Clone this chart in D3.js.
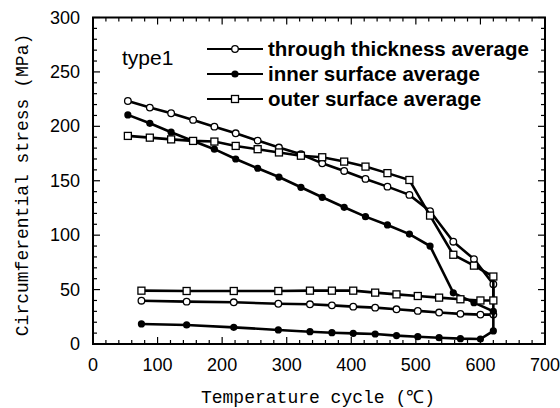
<!DOCTYPE html>
<html><head><meta charset="utf-8">
<script src="https://cdn.jsdelivr.net/npm/d3@7"></script>
<style>body{margin:0;background:#fff}</style>
</head><body>
<svg id="c" width="560" height="408"></svg>
<script>
// Data: a loop — lower branch (heating) from ~75 to 620, then upper branch back down to ~55
const temps   = [75,145,218,287,336,370,403,437,470,503,536,569,600,620, 620,590,558,522,490,456,422,389,355,322,288,255,221,188,155,121,88,54];
const through = [39.8,38.9,38.3,37,36.5,35.5,34.3,33.4,31.9,30.4,28.9,27.7,27,27, 55,78,94,122,137,144.6,151.7,159,166,174.3,180.5,186.9,193.6,199.7,205.9,212,217.2,223.3];
const inner   = [18.4,17.5,15.3,12.9,11.3,10.4,9.8,9.2,7.7,6.7,5.8,4.9,4.6,12, 30,38,47,90,101,109.4,117,125.6,134.8,144,153.4,161.5,170,179,186.6,194.6,202.8,210.5];
const outer   = [49,48.7,48.7,48.7,49,49,49,47.2,45.6,44.1,42.6,41.1,40,40, 62,72,82,118,150.7,157,163,167.6,171.6,173,176,179,182,186,186.6,188,189.6,191.2];
const seriesNames = ["through thickness average","inner surface average","outer surface average"];
const xTicks = [0,100,200,300,400,500,600,700];
const yTicks = [0,50,100,150,200,250,300];

const svg = d3.select("#c");
const x = d3.scaleLinear().domain([0,700]).range([93,545]);
const y = d3.scaleLinear().domain([0,300]).range([344,17.5]);

const g = svg.append("g");
// ticks, inward, on all four sides
const xMinor = d3.range(0,701,20), yMinor = d3.range(0,301,10);
const tk = g.append("g").attr("stroke","#000").attr("stroke-width",1.2);
xMinor.forEach(v=>{
  const L = v%100===0?7:4;
  tk.append("line").attr("x1",x(v)).attr("x2",x(v)).attr("y1",y(0)).attr("y2",y(0)-L);
  tk.append("line").attr("x1",x(v)).attr("x2",x(v)).attr("y1",y(300)).attr("y2",y(300)+L);
});
yMinor.forEach(v=>{
  const L = v%50===0?7:4;
  tk.append("line").attr("y1",y(v)).attr("y2",y(v)).attr("x1",x(0)).attr("x2",x(0)+L);
  tk.append("line").attr("y1",y(v)).attr("y2",y(v)).attr("x1",x(700)).attr("x2",x(700)-L);
});
g.append("rect").attr("x",x(0)).attr("y",y(300)).attr("width",x(700)-x(0)).attr("height",y(0)-y(300))
  .attr("fill","none").attr("stroke","#000").attr("stroke-width",2);

// tick labels
g.selectAll(".xl").data(xTicks).enter().append("text")
  .attr("x",d=>x(d)).attr("y",371).attr("text-anchor","middle")
  .attr("font-family","Liberation Sans, Arial, sans-serif").attr("font-size",18).text(d=>d);
g.selectAll(".yl").data(yTicks).enter().append("text")
  .attr("x",80).attr("y",d=>y(d)+6).attr("text-anchor","end")
  .attr("font-family","Liberation Sans, Arial, sans-serif").attr("font-size",18).text(d=>d);

// axis titles
g.append("text").attr("x",318).attr("y",403).attr("text-anchor","middle")
  .attr("font-family","Liberation Mono, DejaVu Sans Mono, monospace").attr("font-size",18)
  .text("Temperature cycle (℃)");
g.append("text").attr("transform","translate(28,185) rotate(-90)").attr("text-anchor","middle")
  .attr("font-family","Liberation Mono, DejaVu Sans Mono, monospace").attr("font-size",18)
  .text("Circumferential stress (MPa)");

// series
const line = d3.line().x(d=>x(d[0])).y(d=>y(d[1]));
const sets = [through, inner, outer];
const kinds = ["circle","dot","square"];
function marker(sel, kind, cx, cy){
  if(kind==="square") sel.append("rect").attr("x",cx-3.5).attr("y",cy-3.5).attr("width",7).attr("height",7)
      .attr("fill","#fff").attr("stroke","#000").attr("stroke-width",1.3);
  else if(kind==="circle") sel.append("circle").attr("cx",cx).attr("cy",cy).attr("r",3.3)
      .attr("fill","#fff").attr("stroke","#000").attr("stroke-width",1.3);
  else sel.append("circle").attr("cx",cx).attr("cy",cy).attr("r",3.6).attr("fill","#000");
}
sets.forEach((vals,i)=>{
  const pts = temps.map((t,j)=>[t,vals[j]]);
  g.append("path").attr("d",line(pts)).attr("fill","none").attr("stroke","#000").attr("stroke-width",2.6);
  const mg = g.append("g");
  pts.forEach(p=>marker(mg,kinds[i],x(p[0]),y(p[1])));
});

// legend
g.append("text").attr("x",122).attr("y",65).attr("font-family","Liberation Sans, Arial, sans-serif")
  .attr("font-size",21).text("type1");
seriesNames.forEach((n,i)=>{
  const ly = 49 + i*25;
  g.append("line").attr("x1",207).attr("x2",263).attr("y1",ly).attr("y2",ly).attr("stroke","#000").attr("stroke-width",2.2);
  marker(g,kinds[i],235,ly);
  g.append("text").attr("x",268).attr("y",ly+7).attr("font-family","Liberation Sans, Arial, sans-serif")
    .attr("font-weight","bold").attr("font-size",20.5).text(n);
});
</script>
</body></html>
